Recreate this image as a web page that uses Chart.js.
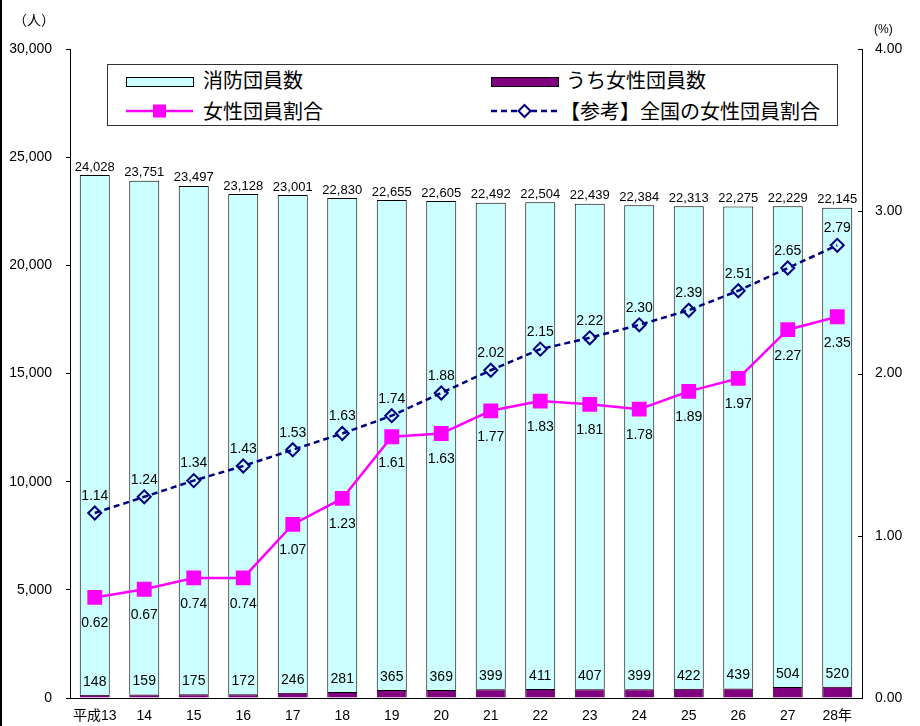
<!DOCTYPE html>
<html>
<head>
<meta charset="utf-8">
<script src="https://cdn.jsdelivr.net/npm/chart.js@4.4.1/dist/chart.umd.min.js"></script>
<style>
  html, body { margin: 0; padding: 0; background: #fff; }
  #wrap { position: relative; width: 920px; height: 726px; overflow: hidden; }
  #frame { position: absolute; left: 0; top: 0; width: 2px; height: 726px; background: #000; }
  canvas { position: absolute; left: 0; top: 0; }
  .txt { position: absolute; font-family: 'Liberation Sans', 'Noto Sans CJK JP', sans-serif; color: #000; white-space: nowrap; }
  #legend { position: absolute; left: 107px; top: 64px; width: 731px; height: 62px; box-sizing: border-box; border: 1px solid #333; background: #fff; }
  .lg { position: absolute; font-family: 'Noto Sans CJK JP', sans-serif; font-size: 20px; line-height: 24px; color: #000; white-space: nowrap; }
  .sym { position: absolute; }
</style>
</head>
<body>
<div id="wrap">
  <canvas id="c" width="920" height="726"></canvas>
  <div id="frame"></div>
  <div class="txt" style="left:13px; top:9px; font-size:14px; font-family:'Noto Sans CJK JP', sans-serif;">（人）</div>
  <div class="txt" style="left:874px; top:22px; font-size:12px;">(%)</div>
  <div id="legend">
    <svg class="sym" style="left:18px; top:10px;" width="70" height="14"><rect x="0.5" y="2.5" width="67" height="9" fill="#CCFFFF" stroke="#000" stroke-width="1"/></svg>
    <div class="lg" style="left:95px; top:3px;">消防団員数</div>
    <svg class="sym" style="left:383px; top:10px;" width="70" height="14"><rect x="0.5" y="2.5" width="67" height="9" fill="#800080" stroke="#000" stroke-width="1"/></svg>
    <div class="lg" style="left:458px; top:3px;">うち女性団員数</div>
    <svg class="sym" style="left:18px; top:38px;" width="70" height="16"><line x1="0" y1="8" x2="67" y2="8" stroke="#FF00FF" stroke-width="2.5"/><rect x="27" y="1.5" width="13" height="13" fill="#FF00FF"/></svg>
    <div class="lg" style="left:95px; top:34px;">女性団員割合</div>
    <svg class="sym" style="left:383px; top:38px;" width="70" height="16"><line x1="0" y1="8" x2="67" y2="8" stroke="#000080" stroke-width="2.5" stroke-dasharray="6,4"/><path d="M33.5 2 L39.5 8 L33.5 14 L27.5 8 Z" fill="#fff" stroke="#000080" stroke-width="2"/></svg>
    <div class="lg" style="left:452px; top:34px;">【参考】全国の女性団員割合</div>
  </div>
</div>
<script>
const categories = ['平成13','14','15','16','17','18','19','20','21','22','23','24','25','26','27','28年'];
const totalMembers = [24028,23751,23497,23128,23001,22830,22655,22605,22492,22504,22439,22384,22313,22275,22229,22145];
const femaleMembers = [148,159,175,172,246,281,365,369,399,411,407,399,422,439,504,520];
const femaleRatio = [0.62,0.67,0.74,0.74,1.07,1.23,1.61,1.63,1.77,1.83,1.81,1.78,1.89,1.97,2.27,2.35];
const nationalRatio = [1.14,1.24,1.34,1.43,1.53,1.63,1.74,1.88,2.02,2.15,2.22,2.30,2.39,2.51,2.65,2.79];
const leftTicks = [0,5000,10000,15000,20000,25000,30000];
const rightTicks = [0,1,2,3,4];

const FONT = "'Liberation Sans', 'Noto Sans CJK JP', sans-serif";

const labelPlugin = {
  id: 'valueLabels',
  afterDraw(chart) {
    const ctx = chart.ctx;
    // inward tick marks on the right axis
    const s = chart.scales.y1;
    ctx.save();
    ctx.strokeStyle = '#000';
    ctx.lineWidth = 1;
    s.ticks.forEach(t => {
      const y = Math.round(s.getPixelForValue(t.value)) + 0.5;
      ctx.beginPath();
      ctx.moveTo(s.left - 4, y);
      ctx.lineTo(s.left, y);
      ctx.stroke();
    });
    ctx.restore();
  },
  afterDatasetsDraw(chart) {
    const ctx = chart.ctx;
    ctx.save();
    ctx.fillStyle = '#000';
    ctx.textAlign = 'center';
    ctx.textBaseline = 'middle';
    chart.data.datasets.forEach((ds, i) => {
      const meta = chart.getDatasetMeta(i);
      meta.data.forEach((el, j) => {
        const v = ds.data[j];
        let txt, y;
        if (ds.kind === 'total') {
          ctx.font = '13px ' + FONT;
          txt = v.toLocaleString('en-US');
          y = el.y - 8;
        } else if (ds.kind === 'female') {
          ctx.font = '14px ' + FONT;
          txt = String(v);
          y = el.y - 13;
        } else if (ds.kind === 'ratio') {
          ctx.font = '14px ' + FONT;
          txt = v.toFixed(2);
          y = el.y + 26;
        } else {
          ctx.font = '14px ' + FONT;
          txt = v.toFixed(2);
          y = el.y - 17;
        }
        ctx.fillText(txt, el.x, y);
      });
    });
    ctx.restore();
  }
};

new Chart(document.getElementById('c'), {
  data: {
    labels: categories,
    datasets: [
      { type: 'bar', kind: 'female', label: 'うち女性団員数', data: femaleMembers, yAxisID: 'y',
        backgroundColor: '#800080', borderColor: '#000', borderWidth: 1, order: 2,
        barPercentage: 0.606, categoryPercentage: 1 },
      { type: 'bar', kind: 'total', label: '消防団員数', data: totalMembers, yAxisID: 'y',
        backgroundColor: '#CCFFFF', borderColor: '#000', borderWidth: 1, order: 2,
        barPercentage: 0.606, categoryPercentage: 1 },
      { type: 'line', kind: 'ratio', label: '女性団員割合', data: femaleRatio, yAxisID: 'y1',
        borderColor: '#FF00FF', borderWidth: 2.5, pointStyle: 'rect', pointRadius: 10.5,
        pointBackgroundColor: '#FF00FF', pointBorderColor: '#FF00FF', pointBorderWidth: 0,
        tension: 0, order: 0 },
      { type: 'line', kind: 'national', label: '【参考】全国の女性団員割合', data: nationalRatio, yAxisID: 'y1',
        borderColor: '#000080', borderWidth: 2.5, borderDash: [6, 4], pointStyle: 'rectRot', pointRadius: 6.5,
        pointBackgroundColor: 'rgba(0,0,0,0)', pointBorderColor: '#000080', pointBorderWidth: 2,
        tension: 0, order: 1 }
    ]
  },
  options: {
    responsive: false,
    animation: false,
    devicePixelRatio: 1,
    layout: { padding: { top: 49, left: 0, right: 0, bottom: 0 } },
    plugins: { legend: { display: false }, tooltip: { enabled: false } },
    scales: {
      x: {
        stacked: true,
        grid: { display: true, drawOnChartArea: false, drawTicks: false },
        border: { display: true, color: '#000', width: 1 },
        ticks: { color: '#000', font: { size: 14, family: FONT }, padding: 10, maxRotation: 0, autoSkip: false },
        afterFit(s) { s.height = 28; }
      },
      y: {
        type: 'linear', position: 'left', stacked: true, min: 0, max: 30000,
        afterBuildTicks(s) { s.ticks = leftTicks.map(v => ({ value: v })); },
        grid: { display: true, drawOnChartArea: false, drawTicks: true, tickLength: 4, color: '#000' },
        border: { display: true, color: '#000', width: 1 },
        ticks: { color: '#000', font: { size: 14, family: FONT }, padding: 14,
          callback: v => Number(v).toLocaleString('en-US') },
        afterFit(s) { s.width = 70; }
      },
      y1: {
        type: 'linear', position: 'right', min: 0, max: 4,
        afterBuildTicks(s) { s.ticks = rightTicks.map(v => ({ value: v })); },
        grid: { display: true, drawOnChartArea: false, drawTicks: false },
        border: { display: true, color: '#000', width: 1 },
        ticks: { color: '#000', font: { size: 14, family: FONT }, padding: 13,
          callback: v => Number(v).toFixed(2) },
        afterFit(s) { s.width = 58; }
      }
    }
  },
  plugins: [labelPlugin]
});
</script>
</body>
</html>
